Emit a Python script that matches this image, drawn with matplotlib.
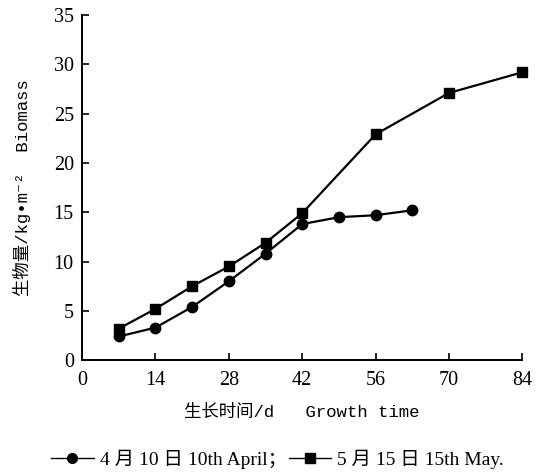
import matplotlib.pyplot as plt
from matplotlib.lines import Line2D

plt.rcParams['font.family'] = ['Liberation Serif', 'Noto Sans CJK SC', 'DejaVu Sans']

# 4月10日 播种
days_apr = [7, 14, 21, 28, 35, 42, 49, 56, 63]
biomass_apr = [2.4, 3.3, 5.4, 8.0, 10.8, 13.8, 14.5, 14.7, 15.2]

# 5月15日 播种
days_may = [7, 14, 21, 28, 35, 42, 56, 70, 84]
biomass_may = [3.2, 5.2, 7.5, 9.5, 11.9, 14.9, 22.9, 27.1, 29.2]

xticks = [0, 14, 28, 42, 56, 70, 84]
yticks = [0, 5, 10, 15, 20, 25, 30, 35]

fig = plt.figure(figsize=(5.44, 4.72), dpi=100)
ax = fig.add_axes([0.151, 0.237, 0.809, 0.731])

ax.plot(days_apr, biomass_apr, color='black', lw=1.6, marker='o', ms=7.5, clip_on=False)
ax.plot(days_may, biomass_may, color='black', lw=1.6, marker='s', ms=7, clip_on=False)

ax.set_xlim(0, 84)
ax.set_ylim(0, 35)
ax.set_xticks(xticks)
ax.set_yticks(yticks)
ax.tick_params(axis='both', direction='in', length=5, width=1.2, labelsize=14.5)
ax.tick_params(axis='x', pad=8)
ax.tick_params(axis='y', pad=6)
for s in ['top', 'right']:
    ax.spines[s].set_visible(False)
for s in ['left', 'bottom']:
    ax.spines[s].set_linewidth(1.4)

mono = ['Liberation Mono', 'Noto Sans CJK SC', 'DejaVu Sans']
ax.set_xlabel('生长时间/d   Growth time', fontsize=12.5, family=mono, labelpad=10)
ax.set_ylabel('生物量/kg•m⁻²  Biomass', fontsize=12.5, family=mono, labelpad=16)

handles = [Line2D([], [], color='black', lw=1.0, marker='o', ms=7),
           Line2D([], [], color='black', lw=1.0, marker='s', ms=7)]
labels = ['4 月 10 日 10th April；', '5 月 15 日 15th May.']
fig.legend(handles, labels, loc='lower center', bbox_to_anchor=(0.51, -0.03),
           ncol=2, frameon=False, fontsize=14, handlelength=2.2,
           handletextpad=0.3, columnspacing=0.1)

fig.savefig('out.png', dpi=100)
